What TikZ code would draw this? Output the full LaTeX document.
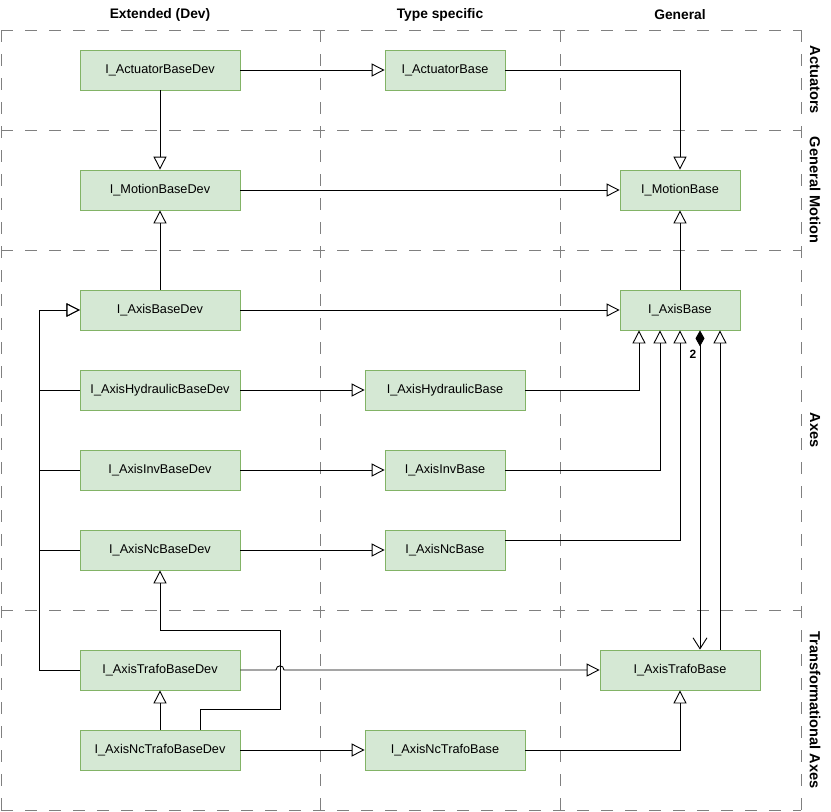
\documentclass[tikz,border=0pt]{standalone}
\usepackage{fontspec}
\setmainfont{Liberation Sans}
\usetikzlibrary{arrows.meta}
\definecolor{boxfill}{HTML}{D5E8D4}
\definecolor{boxline}{HTML}{82B366}
\definecolor{gridgray}{HTML}{808080}
\tikzset{
  box/.style={draw=boxline, fill=boxfill, line width=0.8pt, minimum height=40pt, inner sep=0pt,
    font=\fontsize{12.7}{15}\selectfont},
  wbox/.style={box, minimum width=160pt},
  nbox/.style={box, minimum width=120pt},
  gen/.style={draw=black, line width=0.9pt, -{Triangle[open, length=13pt, width=13pt, fill=white]}},
  comp/.style={draw=black, line width=0.9pt, {Diamond[length=16pt, width=9pt]}-{Straight Barb[length=11pt, width=14pt]}},
  lane/.style={draw=gridgray, line width=0.9pt, dash pattern=on 12pt off 12pt},
  header/.style={font=\bfseries\fontsize{13.8}{16}\selectfont},
  rowlabel/.style={font=\bfseries\fontsize{14.6}{17}\selectfont, rotate=-90},
}
\begin{document}
\begin{tikzpicture}[x=1pt, y=-1pt]
\useasboundingbox (0,0) rectangle (831,812);
% lanes
\foreach \yy in {30,130,250,610,810} \draw[lane] (1,\yy) -- (801,\yy);
\foreach \xx in {1,320,560,801} \draw[lane] (\xx,30) -- (\xx,810);
% headers
\node[header] (hExt) at (160,15) {Extended (Dev)};
\node[header] (hType) at (440,15) {Type specific};
\node[header] (hGen) at (680,15) {General};
\node[rowlabel] (rAct) at (815,80) {Actuators};
\node[rowlabel] (rMot) at (815,190) {General Motion};
\node[rowlabel] (rAx) at (815,430) {Axes};
\node[rowlabel] (rTr) at (815,710) {Transformational Axes};
% nodes
\node[wbox] (ActDev) at (160,70) {I\_ActuatorBaseDev};
\node[nbox] (ActBase) at (445,70) {I\_ActuatorBase};
\node[wbox] (MotDev) at (160,190) {I\_MotionBaseDev};
\node[nbox] (MotBase) at (680,190) {I\_MotionBase};
\node[wbox] (AxDev) at (160,310) {I\_AxisBaseDev};
\node[nbox] (AxBase) at (680,310) {I\_AxisBase};
\node[wbox] (HydDev) at (160,390) {I\_AxisHydraulicBaseDev};
\node[wbox] (HydBase) at (445,390) {I\_AxisHydraulicBase};
\node[wbox] (InvDev) at (160,470) {I\_AxisInvBaseDev};
\node[nbox] (InvBase) at (445,470) {I\_AxisInvBase};
\node[wbox] (NcDev) at (160,550) {I\_AxisNcBaseDev};
\node[nbox] (NcBase) at (445,550) {I\_AxisNcBase};
\node[wbox] (TrDev) at (160,670) {I\_AxisTrafoBaseDev};
\node[wbox] (TrBase) at (680,670) {I\_AxisTrafoBase};
\node[wbox] (NcTrDev) at (160,750) {I\_AxisNcTrafoBaseDev};
\node[wbox] (NcTrBase) at (445,750) {I\_AxisNcTrafoBase};
% connectors
\draw[gen] (ActDev) -- (ActBase);
\draw[gen] (ActBase) -| (MotBase);
\draw[gen] (ActDev) -- (MotDev);
\draw[gen] (MotDev) -- (MotBase);
\draw[gen] (AxDev) -- (MotDev);
\draw[gen] (AxBase) -- (MotBase);
\draw[gen] (AxDev) -- (AxBase);
\draw[gen] (HydDev.west) -- ++(-40,0) |- (AxDev.west);
\draw[gen] (InvDev.west) -- ++(-40,0) |- (AxDev.west);
\draw[gen] (NcDev.west) -- ++(-40,0) |- (AxDev.west);
\draw[gen] (TrDev.west) -- ++(-40,0) |- (AxDev.west);
\draw[gen] (HydDev) -- (HydBase);
\draw[gen] (HydBase.east) -| (AxBase.south -| 639,0);
\draw[gen] (InvDev) -- (InvBase);
\draw[gen] (InvBase.east) -| (AxBase.south -| 660,0);
\draw[gen] (NcDev) -- (NcBase);
\draw[gen] ([yshift=10pt]NcBase.east) -| (AxBase.south);
\draw[comp] (AxBase.south -| 700,0) -- (TrBase.north -| 700,0);
\node[font=\bfseries\fontsize{12}{14}\selectfont] (mult) at (693,354) {2};
\draw[gen] (TrBase.north -| 720,0) -- (AxBase.south -| 720,0);
\draw[gen] (NcTrDev) -- (TrDev);
\draw[gen] (NcTrDev.north -| 200,0) -- ++(0,-20) -| (280,630) -| (NcDev.south);
\draw[gen] (TrDev.east) -- (276,670) .. controls (276,664.5) and (284,664.5) .. (284,670) -- (TrBase.west);
\draw[gen] (NcTrDev) -- (NcTrBase);
\draw[gen] (NcTrBase) -| (TrBase);
\end{tikzpicture}
\end{document}
